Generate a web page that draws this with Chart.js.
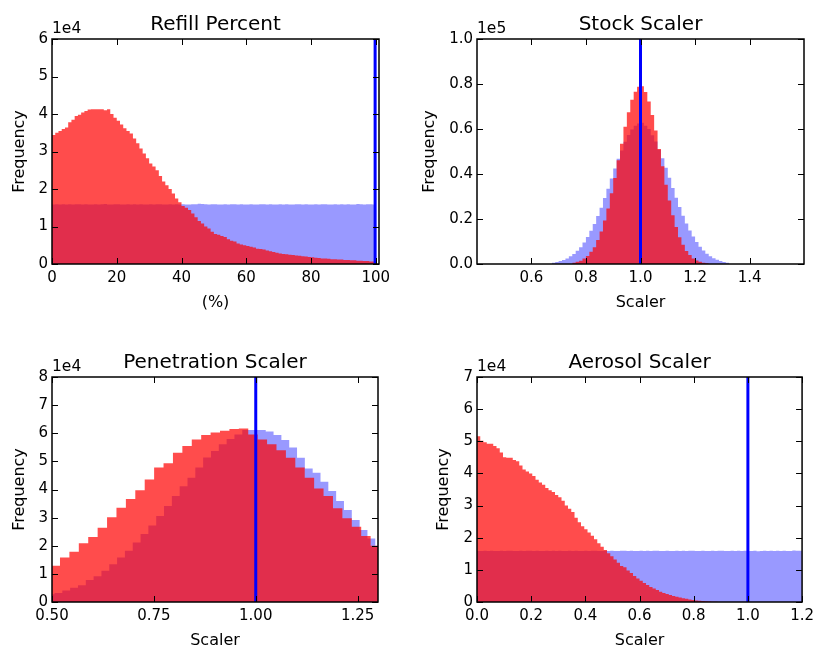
<!DOCTYPE html>
<html>
<head>
<meta charset="utf-8">
<script src="https://cdn.jsdelivr.net/npm/chart.js@4"></script>
<style>
  html, body { margin: 0; padding: 0; background: #fff; overflow: hidden; }
  body { width: 819px; height: 647px; position: relative; }
  canvas { position: absolute; }
</style>
</head>
<body>
<canvas id="refill" width="410" height="320" style="left:0;top:0"></canvas>
<canvas id="stock" width="409" height="320" style="left:410px;top:0"></canvas>
<canvas id="pen" width="410" height="340" style="left:0;top:320px"></canvas>
<canvas id="aero" width="409" height="340" style="left:410px;top:320px"></canvas>
<script>
// Prior (blue) vs posterior (red) histograms, four parameters.
const FONT = '"DejaVu Sans", sans-serif';
const PRIOR = 'rgba(0, 0, 255, 0.4)';
const POST = 'rgba(255, 0, 0, 0.7)';
const TRUTH = '#0000ff';
const TICK_LEN = 6;

// Refill Percent: 100 bins of 1 %
const refillBin = { start: 0, width: 1 };
const refillPrior = [
  15900, 15950, 15850, 15920, 15880, 15960, 15870, 15910, 15940, 15890,
  15930, 15860, 15900, 15950, 15880, 15920, 15970, 15890, 15860, 15910,
  15940, 15880, 15900, 15930, 15870, 15950, 15890, 15920, 15860, 15900,
  15960, 15880, 15910, 15940, 15870, 15900, 15930, 15890, 15950, 15860,
  15920, 15900, 15880, 15960, 15910, 16050, 15990, 15940, 15890, 15920,
  15950, 15870, 15900, 15930, 15880, 15910, 15960, 15890, 15920, 15870,
  15900, 15940, 15880, 15860, 15910, 15930, 15890, 15950, 15870, 15900,
  15920, 15880, 15940, 15900, 15860, 15910, 15950, 15880, 15920, 15890,
  15900, 15930, 15870, 15910, 15960, 15880, 15900, 15940, 15890, 15920,
  15870, 15930, 15900, 15880, 16000, 15910, 15890, 15940, 15920, 15900,
];
const refillPost = [
  34400, 35000, 35500, 36000, 36400, 37800, 38500, 39500, 39800, 40400,
  40800, 41200, 41300, 41300, 41300, 41300, 41000, 41300, 40000, 39000,
  38200, 37200, 36200, 35500, 34800, 33500, 32200, 30800, 29500, 28200,
  26800, 26000, 25000, 23500, 22000, 21000, 20000, 18800, 17500, 16500,
  15500, 15000, 14400, 13500, 12500, 11500, 10800, 10000, 9500, 8600,
  8000, 7800, 7500, 7200, 6600, 6200, 6000, 5500, 5200, 5000,
  4800, 4600, 4400, 4100, 4000, 3900, 3600, 3400, 3200, 3000,
  2800, 2700, 2600, 2500, 2400, 2300, 2200, 2100, 2000, 1900,
  1800, 1700, 1600, 1500, 1500, 1400, 1300, 1300, 1200, 1200,
  1100, 1100, 1000, 1000, 900, 900, 800, 800, 700, 700,
];
const refillXTicks = [0, 20, 40, 60, 80, 100];
const refillYTicks = [0, 10000, 20000, 30000, 40000, 50000, 60000];

// Stock Scaler
const stockPriorBin = { start: 0.675, width: 0.0125 };
const stockPrior = [
  600, 900, 1300, 1800, 2500, 3400, 4500, 5900, 7500, 9600,
  12000, 14800, 17800, 21300, 25000, 29300, 33500, 38000, 42500, 46800,
  50500, 54300, 57300, 59800, 61500, 62500,
  62800, 61400, 60000, 57200, 54500, 50800, 47000, 42800, 38300, 33800,
  29500, 25300, 21400, 18000, 14900, 12200, 9800, 7700, 6000, 4600,
  3500, 2600, 1900, 1300, 900, 600,
];
const stockPostBin = { start: 0.75, width: 0.0125 };
const stockPost = [
  600, 1000, 1500, 2400, 3600, 5400, 7500, 10700, 14400, 19300,
  24700, 31400, 38200, 46100, 53400, 61000, 67400, 73000, 76600, 78800,
  79000, 76500, 72200, 66200, 59300, 51100, 43400, 35200, 28200, 21700,
  16400, 11900, 8600, 5800, 4000, 2500, 1600, 1000, 600, 300,
];
const stockXTicks = [0.6, 0.8, 1.0, 1.2, 1.4];
const stockYTicks = [0, 20000, 40000, 60000, 80000, 100000];

// Penetration Scaler
const penPriorBin = { start: 0.4869, width: 0.0192 };
const penPrior = [
  2800, 3200, 4100, 5100, 6000, 7800, 9200, 11100, 13400, 15800,
  18200, 21200, 24200, 27200, 30600, 34100, 37700, 41200, 44200, 47800,
  51400, 53700, 56100, 58000, 59600, 61200, 61200, 61200, 60600, 59400,
  57600, 54900, 51300, 47500, 46000, 42800, 39500, 35900, 32700, 29200,
  25600, 22600, 20000,
];
const penPostBin = { start: 0.4965, width: 0.0231 };
const penPost = [
  12900, 15800, 17900, 20900, 23100, 26400, 30100, 33500, 36600, 39700,
  43600, 47800, 49300, 53100, 55500, 57800, 59400, 60300, 60900, 61500,
  61700, 59600, 57800, 56100, 54000, 51300, 47800, 44200, 40400, 37700,
  33300, 29800, 26800, 23500, 20000,
];
const penXTicks = [0.5, 0.75, 1.0, 1.25];
const penYTicks = [0, 10000, 20000, 30000, 40000, 50000, 60000, 70000, 80000];

// Aerosol Scaler
const aeroBin = { start: 0, width: 0.012 };
const aeroPrior = [
  15900, 15880, 15920, 15860, 15940, 15900, 15870, 15930, 15890, 15910,
  15950, 15880, 15900, 15920, 15860, 15940, 15910, 15890, 15930, 15870,
  15900, 15950, 15880, 15910, 15860, 15930, 15900, 15890, 15940, 15880,
  15920, 15870, 15900, 15950, 15890, 15910, 15930, 15880, 15860, 15920,
  15900, 15940, 15870, 15890, 15930, 15910, 15880, 15950, 15900, 15860,
  15920, 15890, 15940, 15880, 15910, 15930, 15870, 15900, 15950, 15890,
  15880, 15920, 15900, 15940, 15860, 15910, 15930, 15890, 15880, 15950,
  15900, 15870, 15920, 15890, 15940, 15910, 15880, 15900, 15930, 15860,
  15920, 15890, 15950, 15900, 15880, 15910, 15770, 15900, 15940, 15880,
  15930, 15900, 15960, 15890, 15920, 15880, 15900, 16050, 15940, 15910,
];
const aeroPost = [
  51600, 50200, 49700, 49200, 49200, 48500, 47800, 46500, 45000, 44900,
  44900, 44200, 43800, 42500, 41200, 40600, 40000, 39200, 38000, 37200,
  36500, 35500, 34800, 34200, 33300, 32600, 31500, 30000, 29000, 28000,
  26200, 24800, 23600, 22600, 21600, 20600, 19500, 18300, 17200, 16200,
  15200, 14200, 13200, 12200, 11200, 10800, 9800, 9000, 8100, 7300,
  6600, 5900, 5300, 4700, 4200, 3700, 3200, 2800, 2500, 2200,
  1900, 1600, 1400, 1200, 1000, 800, 650, 500, 400, 300,
  220, 150, 100, 60, 30,
];
const aeroXTicks = [0, 0.2, 0.4, 0.6, 0.8, 1.0, 1.2];
const aeroYTicks = [0, 10000, 20000, 30000, 40000, 50000, 60000, 70000];

// bin counts -> step outline (left edges + closing right edge)
function steps(bin, counts) {
  const pts = counts.map((c, i) => ({ x: bin.start + i * bin.width, y: c }));
  pts.push({ x: bin.start + counts.length * bin.width, y: counts[counts.length - 1] });
  return pts;
}

function hist(label, color, order, bin, counts) {
  return {
    label,
    data: steps(bin, counts),
    stepped: true,
    fill: 'origin',
    backgroundColor: color,
    borderColor: 'transparent',
    borderWidth: 0,
    pointRadius: 0,
    order,
    clip: 0,
  };
}

// matplotlib-ish frame: inward ticks on all sides, title and offset text
const deco = {
  id: 'deco',
  afterDatasetsDraw(chart, _args, opts) {
    const { ctx, chartArea: a, scales: { x, y } } = chart;
    ctx.save();
    ctx.strokeStyle = '#000';
    ctx.lineWidth = 1;
    ctx.beginPath();
    for (const t of x.ticks) {
      const px = Math.round(x.getPixelForValue(t.value)) + 0.5;
      ctx.moveTo(px, a.bottom); ctx.lineTo(px, a.bottom - TICK_LEN);
      ctx.moveTo(px, a.top); ctx.lineTo(px, a.top + TICK_LEN);
    }
    for (const t of y.ticks) {
      const py = Math.round(y.getPixelForValue(t.value)) + 0.5;
      ctx.moveTo(a.left, py); ctx.lineTo(a.left + TICK_LEN, py);
      ctx.moveTo(a.right, py); ctx.lineTo(a.right - TICK_LEN, py);
    }
    ctx.stroke();
    ctx.lineWidth = 1.5;
    ctx.strokeRect(a.left, a.top, a.right - a.left, a.bottom - a.top);

    ctx.fillStyle = '#000';
    ctx.textBaseline = 'alphabetic';
    ctx.font = '20px ' + FONT;
    ctx.textAlign = 'center';
    ctx.fillText(opts.title, (a.left + a.right) / 2, a.top - 9);
    ctx.font = '15.5px ' + FONT;
    ctx.textAlign = 'left';
    ctx.fillText(opts.exp, a.left, a.top - 6);
    ctx.restore();
  },
};

function panel(id, cfg) {
  const scale = 10 ** cfg.exp;
  new Chart(document.getElementById(id), {
    type: 'line',
    data: {
      datasets: [
        {
          label: 'truth',
          data: [{ x: cfg.truth, y: 0 }, { x: cfg.truth, y: cfg.yMax }],
          borderColor: TRUTH,
          borderWidth: 3,
          pointRadius: 0,
          fill: false,
          order: 0,
          clip: 0,
        },
        hist('posterior', POST, 1, cfg.postBin, cfg.post),
        hist('prior', PRIOR, 2, cfg.priorBin, cfg.prior),
      ],
    },
    options: {
      responsive: false,
      animation: false,
      events: [],
      layout: { padding: { top: cfg.pad.top, right: cfg.pad.right, left: 0, bottom: 0 } },
      plugins: {
        legend: { display: false },
        tooltip: { enabled: false },
        deco: { title: cfg.title, exp: '1e' + cfg.exp },
      },
      scales: {
        x: {
          type: 'linear',
          min: cfg.xMin,
          max: cfg.xMax,
          grid: { display: false, drawTicks: false },
          border: { display: false },
          afterBuildTicks: (s) => { s.ticks = cfg.xTicks.map((v) => ({ value: v })); },
          afterFit: (s) => { s.height = cfg.xH; },
          ticks: {
            autoSkip: false,
            maxRotation: 0,
            padding: 5,
            color: '#000',
            font: { family: FONT, size: 15 },
            callback: (v) => Number(v).toFixed(cfg.xDigits),
          },
          title: {
            display: true,
            text: cfg.xLabel,
            color: '#000',
            font: { family: FONT, size: 16 },
            padding: { top: 0, bottom: cfg.xTitlePad },
          },
        },
        y: {
          type: 'linear',
          min: 0,
          max: cfg.yMax,
          grid: { display: false, drawTicks: false },
          border: { display: false },
          afterBuildTicks: (s) => { s.ticks = cfg.yTicks.map((v) => ({ value: v })); },
          afterFit: (s) => { s.width = cfg.yW; },
          ticks: {
            autoSkip: false,
            padding: 4,
            color: '#000',
            font: { family: FONT, size: 15 },
            callback: (v) => (v / scale).toFixed(cfg.yDigits),
          },
          title: {
            display: true,
            text: 'Frequency',
            color: '#000',
            font: { family: FONT, size: 16 },
            padding: { top: cfg.yTitlePad, bottom: 0 },
          },
        },
      },
    },
    plugins: [deco],
  });
}

panel('refill', {
  title: 'Refill Percent', xLabel: '(%)', exp: 4,
  xMin: 0, xMax: 101, yMax: 60000, truth: 99.8,
  xTicks: refillXTicks, yTicks: refillYTicks, xDigits: 0, yDigits: 0,
  prior: refillPrior, priorBin: refillBin, post: refillPost, postBin: refillBin,
  pad: { top: 39, right: 31 }, yW: 52, xH: 56, yTitlePad: 10.4, xTitlePad: 8,
});

panel('stock', {
  title: 'Stock Scaler', xLabel: 'Scaler', exp: 5,
  xMin: 0.401, xMax: 1.599, yMax: 100000, truth: 1.0,
  xTicks: stockXTicks, yTicks: stockYTicks, xDigits: 1, yDigits: 1,
  prior: stockPrior, priorBin: stockPriorBin, post: stockPost, postBin: stockPostBin,
  pad: { top: 39, right: 15 }, yW: 67, xH: 56, yTitlePad: 10.4, xTitlePad: 8,
});

panel('pen', {
  title: 'Penetration Scaler', xLabel: 'Scaler', exp: 4,
  xMin: 0.5, xMax: 1.3, yMax: 80000, truth: 1.0,
  xTicks: penXTicks, yTicks: penYTicks, xDigits: 2, yDigits: 0,
  prior: penPrior, priorBin: penPriorBin, post: penPost, postBin: penPostBin,
  pad: { top: 57, right: 32 }, yW: 52, xH: 58, yTitlePad: 10.4, xTitlePad: 10,
});

panel('aero', {
  title: 'Aerosol Scaler', xLabel: 'Scaler', exp: 4,
  xMin: 0, xMax: 1.2, yMax: 70000, truth: 1.0,
  xTicks: aeroXTicks, yTicks: aeroYTicks, xDigits: 1, yDigits: 0,
  prior: aeroPrior, priorBin: aeroBin, post: aeroPost, postBin: aeroBin,
  pad: { top: 57, right: 16 }, yW: 67, xH: 58, yTitlePad: 24.4, xTitlePad: 10,
});
</script>
</body>
</html>
